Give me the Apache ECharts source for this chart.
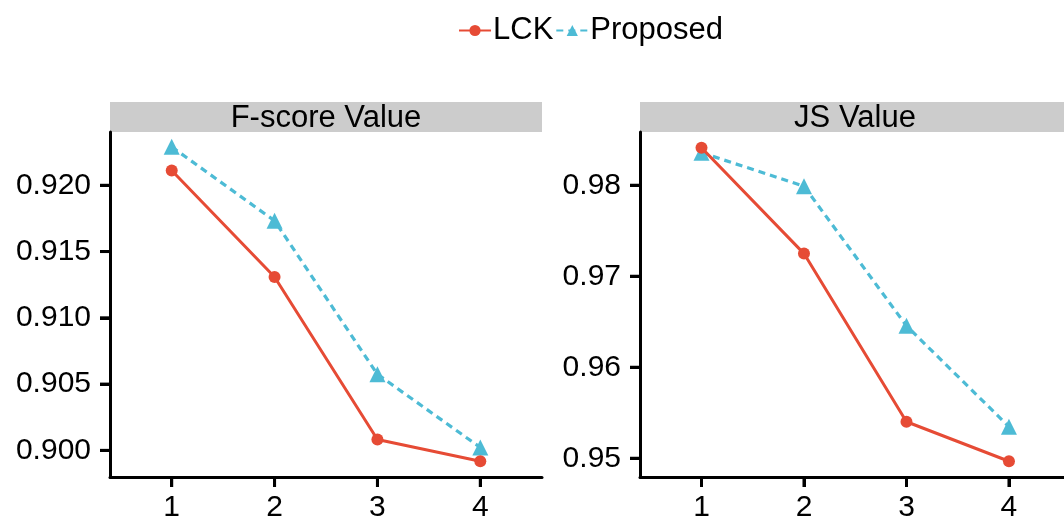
<!DOCTYPE html>
<html>
<head>
<meta charset="utf-8">
<script src="https://cdn.jsdelivr.net/npm/echarts@6/dist/echarts.min.js"></script>
<style>
html,body{margin:0;padding:0;background:#fff;}
#c{width:1064px;height:523px;}
</style>
</head>
<body>
<div id="c"></div>
<script>
// ---- data ----
var categories = [1, 2, 3, 4];
var panelTitles = ['F-score Value', 'JS Value'];
var fscoreLCK = [0.92112, 0.91308, 0.90082, 0.89918];
var fscoreProposed = [0.92290, 0.91732, 0.90574, 0.90022];
var jsLCK = [0.98412, 0.97249, 0.95401, 0.94967];
var jsProposed = [0.98358, 0.97989, 0.96455, 0.95347];
var fscoreTicks = [0.900, 0.905, 0.910, 0.915, 0.920];
var jsTicks = [0.95, 0.96, 0.97, 0.98];

var RED = '#E64B35', CYAN = '#4DBBD5';
var FONT = '"Liberation Sans", Arial, sans-serif';
var FS = 30;
var xRanges = [[0.4, 4.6], [0.4, 4.537]];
var yRanges = [[0.89799, 0.92402], [0.94794, 0.98585]];
var tickSets = [fscoreTicks, jsTicks];

function pairs(vals) { return categories.map(function (c, i) { return [c, vals[i]]; }); }

var grids = [
  { left: 110, right: 522, top: 132, bottom: 41 },
  { left: 640, right: 0, top: 132, bottom: 41 }
];

function xAxis(idx) {
  return {
    type: 'value', gridIndex: idx, min: xRanges[idx][0], max: xRanges[idx][1],
    axisLine: { show: true, lineStyle: { color: '#000', width: 3 } },
    axisTick: { show: true, length: 10, lineStyle: { color: '#000', width: 3 }, customValues: categories },
    axisLabel: { show: true, color: '#000', fontSize: FS, fontFamily: FONT, margin: 16, customValues: categories },
    splitLine: { show: false }
  };
}
function yAxis(idx, ticks, dec) {
  return {
    type: 'value', gridIndex: idx, min: yRanges[idx][0], max: yRanges[idx][1],
    axisLine: { show: true, lineStyle: { color: '#000', width: 3 } },
    axisTick: { show: true, length: 10, lineStyle: { color: '#000', width: 3 }, customValues: ticks },
    axisLabel: { show: true, color: '#000', fontSize: FS, fontFamily: FONT, margin: 19, customValues: ticks,
      formatter: function (v) { return Number(v).toFixed(dec); } },
    splitLine: { show: false }
  };
}

function lck(idx, vals) {
  return { name: 'LCK', type: 'line', xAxisIndex: idx, yAxisIndex: idx, data: pairs(vals),
    symbol: 'circle', symbolSize: 12, itemStyle: { color: RED },
    lineStyle: { color: RED, width: 3 }, z: 3, silent: true };
}
function prop(idx, vals) {
  return { name: 'Proposed', type: 'line', xAxisIndex: idx, yAxisIndex: idx, data: pairs(vals),
    symbol: 'triangle', symbolSize: 16, itemStyle: { color: CYAN },
    lineStyle: { color: CYAN, width: 3.2, type: [7, 5] }, z: 2, silent: true };
}

var stripGraphics = [];
var strips = [[110, 432], [640, 430]];
strips.forEach(function (s, i) {
  stripGraphics.push({ type: 'rect', shape: { x: s[0], y: 102, width: s[1], height: 30 }, style: { fill: '#CCCCCC' }, silent: true });
  stripGraphics.push({ type: 'text', x: s[0] + s[1] / 2, y: 118,
    style: { text: panelTitles[i], fill: '#000', font: '31px ' + FONT, textAlign: 'center', textVerticalAlign: 'middle' }, silent: true });
});

var chart = echarts.init(document.getElementById('c'));
chart.setOption({
  animation: false,
  backgroundColor: '#fff',
  legend: {
    data: ['LCK', 'Proposed'], top: 10, left: 453, itemGap: 2, itemWidth: 32, itemHeight: 14,
    textStyle: { color: '#000', fontSize: 31, fontFamily: FONT, padding: [0, 0, 0, -3] }
  },
  grid: grids,
  xAxis: [xAxis(0), xAxis(1)],
  yAxis: [yAxis(0, fscoreTicks, 3), yAxis(1, jsTicks, 2)],
  graphic: stripGraphics,
  series: [lck(0, fscoreLCK), prop(0, fscoreProposed), lck(1, jsLCK), prop(1, jsProposed)]
});

// tick marks placed through the axes' own scales
var tickGraphics = stripGraphics.slice();
[0, 1].forEach(function (g) {
  var finder = { xAxisIndex: g, yAxisIndex: g };
  tickSets[g].forEach(function (t) {
    var p = chart.convertToPixel(finder, [xRanges[g][0], t]);
    tickGraphics.push({ type: 'line', z: 100, silent: true,
      shape: { x1: p[0] - 10, y1: p[1], x2: p[0], y2: p[1] }, style: { stroke: '#000', lineWidth: 3 } });
  });
  categories.forEach(function (c) {
    var p = chart.convertToPixel(finder, [c, yRanges[g][0]]);
    tickGraphics.push({ type: 'line', z: 100, silent: true,
      shape: { x1: p[0], y1: p[1], x2: p[0], y2: p[1] + 10 }, style: { stroke: '#000', lineWidth: 3 } });
  });
});
chart.setOption({ graphic: tickGraphics }, { replaceMerge: ['graphic'] });
</script>
</body>
</html>
